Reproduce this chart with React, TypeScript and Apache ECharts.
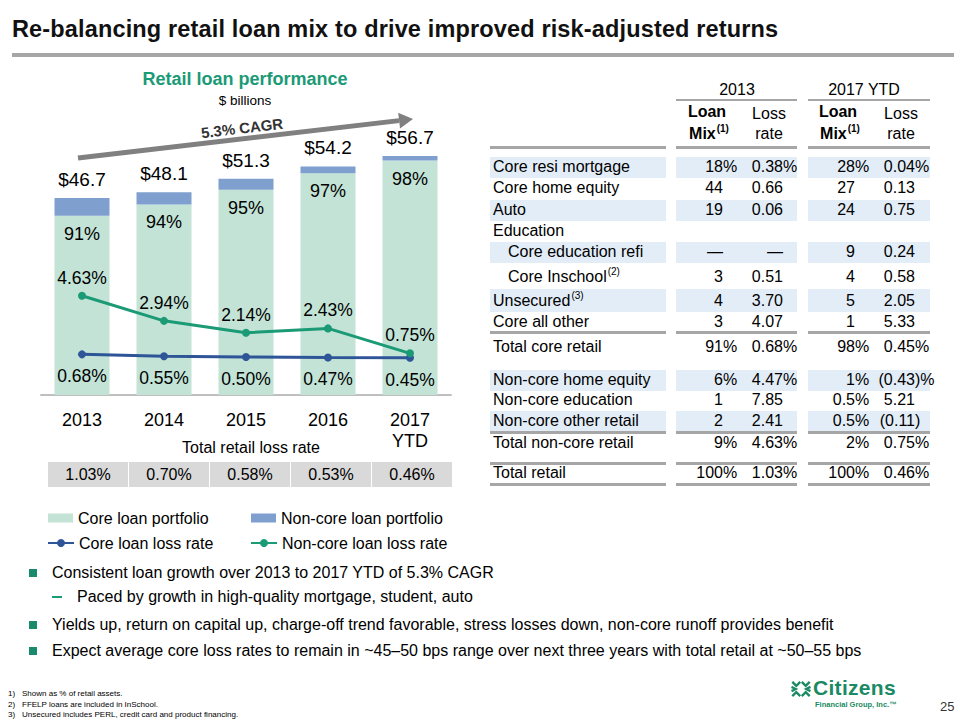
import React, { useEffect, useRef } from "react";
import * as echarts from "echarts";

// ---------- chart data ----------
const years = ["2013", "2014", "2015", "2016", "2017\nYTD"];
const totals = [46.7, 48.1, 51.3, 54.2, 56.7];
const coreLoans = [42.5, 45.2, 48.7, 52.6, 55.6];
const nonCoreLoans = [4.2, 2.9, 2.6, 1.6, 1.1];
const corePct = ["91%", "94%", "95%", "97%", "98%"];
const coreLossRate = [0.68, 0.55, 0.5, 0.47, 0.45];
const nonCoreLossRate = [4.63, 2.94, 2.14, 2.43, 0.75];
const totalLossRate = ["1.03%", "0.70%", "0.58%", "0.53%", "0.46%"];

// ---------- table data ----------
const rowLabels = [
  "Core resi mortgage",
  "Core home equity",
  "Auto",
  "Education",
  "Core education refi",
  "Core Inschool",
  "Unsecured",
  "Core all other",
  "Total core retail",
  "Non-core home equity",
  "Non-core education",
  "Non-core other retail",
  "Total non-core retail",
  "Total retail",
];
const rowNotes = ["", "", "", "", "", "(2)", "(3)", "", "", "", "", "", "", ""];
const mix2013 = ["18%", "44", "19", "", "—", "3", "4", "3", "91%", "6%", "1", "2", "9%", "100%"];
const loss2013 = ["0.38%", "0.66", "0.06", "", "—", "0.51", "3.70", "4.07", "0.68%", "4.47%", "7.85", "2.41", "4.63%", "1.03%"];
const mix2017 = ["28%", "27", "24", "", "9", "4", "5", "1", "98%", "1%", "0.5%", "0.5%", "2%", "100%"];
const loss2017 = ["0.04%", "0.13", "0.75", "", "0.24", "0.58", "2.05", "5.33", "0.45%", "(0.43)%", "5.21", "(0.11)", "0.75%", "0.46%"];

const bullets = [
  "Consistent loan growth over 2013 to 2017 YTD of 5.3% CAGR",
  "Paced by growth in high-quality mortgage, student, auto",
  "Yields up, return on capital up, charge-off trend favorable, stress losses down, non-core runoff provides benefit",
  "Expect average core loss rates to remain in ~45–50 bps range over next three years with total retail at ~50–55 bps",
];
const footnotes = [
  "Shown as % of retail assets.",
  "FFELP loans are included in InSchool.",
  "Unsecured includes PERL, credit card and product financing.",
];

// ---------- layout (not data) ----------
const FONT = "'Liberation Sans', Arial, sans-serif";
const GREEN = "#1b9a76";
const rowY = [167, 188, 210, 231, 252, 277, 301, 322, 347, 380, 400, 421, 443, 473];
const shaded = [1, 0, 1, 0, 1, 0, 1, 0, 0, 1, 0, 1, 0, 0];
const indent = [0, 0, 0, 0, 1, 1, 0, 0, 0, 0, 0, 0, 0, 0];
const colAnchors = [723, 783, 855, 915];
const blocks: [number, number][] = [
  [490, 666],
  [676, 797],
  [808, 930],
];
const ruleY = [147, 332, 432, 463, 484];
const bulletY = [573, 597, 625, 651];

function Txt(props: {
  x: number;
  y: number;
  children: React.ReactNode;
  size?: number;
  align?: "left" | "right" | "center";
  weight?: string;
  color?: string;
  lh?: number;
  ls?: number;
}) {
  const { x, y, children, size = 16, align = "left", weight = "normal", color = "#000" } = props;
  const lh = props.lh ?? Math.round(size * 1.25);
  const style: React.CSSProperties = {
    position: "absolute",
    top: y - lh / 2,
    height: lh,
    lineHeight: lh + "px",
    fontSize: size,
    fontWeight: weight as any,
    color,
    whiteSpace: "nowrap",
    fontFamily: FONT,
    letterSpacing: props.ls ?? 0,
  };
  if (align === "left") style.left = x;
  else if (align === "right") style.right = 960 - x;
  else {
    style.left = x - 300;
    style.width = 600;
    style.textAlign = "center";
  }
  return <div style={style}>{children}</div>;
}

function Sup({ t }: { t: string }) {
  return (
    <span style={{ fontSize: 10, position: "relative", top: -7, marginLeft: 1 }}>{t}</span>
  );
}

function Cell({ x, y, v }: { x: number; y: number; v: string }) {
  if (!v) return null;
  const m = v.match(/^(.*?)([)%]*)$/);
  const main = m ? m[1] : v;
  const suf = m ? m[2] : "";
  return (
    <>
      <Txt x={x} y={y} align="right">
        {main}
      </Txt>
      {suf ? (
        <Txt x={x} y={y}>
          {suf}
        </Txt>
      ) : null}
    </>
  );
}

function Chart() {
  const ref = useRef<HTMLDivElement>(null);
  useEffect(() => {
    if (!ref.current) return;
    const chart = echarts.init(ref.current, undefined, { renderer: "svg" });
    const u = [0.993, -0.1156];
    const n = [0.1156, 0.993];
    const tip = [413, 119];
    const base = [tip[0] - 14 * u[0], tip[1] - 14 * u[1]];
    const legendBase = {
      padding: 0,
      selectedMode: false,
      textStyle: { fontSize: 16, color: "#000", fontFamily: FONT },
    };
    chart.setOption({
      animation: false,
      textStyle: { fontFamily: FONT },
      grid: { left: 41, top: 142, width: 410, height: 253 },
      xAxis: {
        type: "category",
        data: years,
        axisLine: { lineStyle: { color: "#bfbfbf", width: 2 } },
        axisTick: { show: false },
        axisLabel: { fontSize: 18, color: "#000", margin: 14, lineHeight: 21, fontFamily: FONT },
      },
      yAxis: [
        { type: "value", min: 0, max: 60, show: false },
        { type: "value", min: -2.06, max: 15, show: false },
      ],
      legend: [
        { ...legendBase, data: ["Core loan portfolio"], left: 48, top: 510, itemWidth: 25, itemHeight: 9, icon: "rect" },
        { ...legendBase, data: ["Non-core loan portfolio"], left: 251, top: 510, itemWidth: 25, itemHeight: 9, icon: "rect" },
        { ...legendBase, data: ["Core loan loss rate"], left: 47, top: 535, itemWidth: 26, itemHeight: 10 },
        { ...legendBase, data: ["Non-core loan loss rate"], left: 250, top: 535, itemWidth: 26, itemHeight: 10 },
      ],
      series: [
        {
          name: "Core loan portfolio",
          type: "bar",
          stack: "loans",
          data: coreLoans,
          barWidth: 55,
          itemStyle: { color: "#c2e3d5" },
          label: {
            show: true,
            position: "insideTop",
            distance: 9,
            formatter: (p: any) => corePct[p.dataIndex],
            fontSize: 18,
            color: "#000",
            fontFamily: FONT,
          },
        },
        {
          name: "Non-core loan portfolio",
          type: "bar",
          stack: "loans",
          data: nonCoreLoans,
          barWidth: 55,
          itemStyle: { color: "#7f9fcf" },
          label: {
            show: true,
            position: "top",
            distance: 9,
            formatter: (p: any) => "$" + totals[p.dataIndex].toFixed(1),
            fontSize: 19,
            color: "#000",
            fontFamily: FONT,
          },
        },
        {
          name: "Core loan loss rate",
          type: "line",
          yAxisIndex: 1,
          data: coreLossRate,
          symbol: "circle",
          symbolSize: 8,
          lineStyle: { color: "#2e5597", width: 3 },
          itemStyle: { color: "#2e5597" },
          label: {
            show: true,
            position: "bottom",
            distance: 9,
            formatter: (p: any) => p.value.toFixed(2) + "%",
            fontSize: 17.5,
            color: "#000",
            fontFamily: FONT,
          },
        },
        {
          name: "Non-core loan loss rate",
          type: "line",
          yAxisIndex: 1,
          data: nonCoreLossRate,
          symbol: "circle",
          symbolSize: 8,
          lineStyle: { color: GREEN, width: 3 },
          itemStyle: { color: GREEN },
          label: {
            show: true,
            position: "top",
            distance: 5,
            formatter: (p: any) => p.value.toFixed(2) + "%",
            fontSize: 17.5,
            color: "#000",
            fontFamily: FONT,
          },
        },
      ],
      graphic: [
        {
          type: "line",
          shape: { x1: 78, y1: 158, x2: base[0], y2: base[1] },
          style: { stroke: "#808080", lineWidth: 5 },
        },
        {
          type: "polygon",
          shape: {
            points: [
              tip,
              [base[0] + 8 * n[0], base[1] + 8 * n[1]],
              [base[0] - 8 * n[0], base[1] - 8 * n[1]],
            ],
          },
          style: { fill: "#808080" },
        },
        {
          type: "text",
          x: 242,
          y: 128,
          rotation: 0.115,
          style: {
            text: "5.3% CAGR",
            fontSize: 15,
            fontWeight: "bold",
            fontFamily: FONT,
            fill: "#333",
            align: "center",
            verticalAlign: "middle",
          },
        },
        {
          type: "text",
          x: 245,
          y: 79,
          style: {
            text: "Retail loan performance",
            fontSize: 18,
            fontWeight: "bold",
            fontFamily: FONT,
            fill: GREEN,
            align: "center",
            verticalAlign: "middle",
          },
        },
        {
          type: "text",
          x: 245,
          y: 100,
          style: {
            text: "$ billions",
            fontSize: 13.5,
            fontFamily: FONT,
            fill: "#000",
            align: "center",
            verticalAlign: "middle",
          },
        },
      ],
    });
    return () => chart.dispose();
  }, []);
  return <div ref={ref} style={{ position: "absolute", left: 0, top: 0, width: 960, height: 720 }} />;
}

export default function App() {
  return (
    <div
      style={{
        position: "absolute",
        left: 0,
        top: 0,
        width: 960,
        height: 720,
        background: "#fff",
        overflow: "hidden",
        fontFamily: FONT,
      }}
    >
      <Chart />
      <div style={{ position: "absolute", left: 0, top: 0, width: 960, height: 720, pointerEvents: "none" }}>
        {/* Title */}
        <Txt x={12} y={29} size={23.5} weight="bold" color="#111" lh={28} ls={0.15}>
          Re-balancing retail loan mix to drive improved risk-adjusted returns
        </Txt>
        <div style={{ position: "absolute", left: 12, top: 53, width: 942, height: 4, background: "#a6a6a6" }} />

        {/* Total retail loss rate */}
        <Txt x={251} y={448} align="center">
          Total retail loss rate
        </Txt>
        {totalLossRate.map((v, i) => (
          <div
            key={i}
            style={{
              position: "absolute",
              left: 48 + i * 81,
              top: 462,
              width: 80,
              height: 25,
              background: "#d9d9d9",
            }}
          />
        ))}
        {totalLossRate.map((v, i) => (
          <Txt key={"t" + i} x={88 + i * 81} y={475} align="center">
            {v}
          </Txt>
        ))}

        {/* Table header */}
        <Txt x={737} y={90} align="center">
          2013
        </Txt>
        <Txt x={864} y={90} align="center">
          2017 YTD
        </Txt>
        {[1, 2].map((b) => (
          <div
            key={"h" + b}
            style={{
              position: "absolute",
              left: blocks[b][0],
              top: 99,
              width: blocks[b][1] - blocks[b][0],
              height: 2,
              background: "#a6a6a6",
            }}
          />
        ))}
        {[707, 838].map((x) => (
          <React.Fragment key={"lm" + x}>
            <Txt x={x} y={112} align="center" weight="bold">
              Loan
            </Txt>
            <Txt x={x + 2} y={134} align="center" weight="bold">
              Mix<Sup t="(1)" />
            </Txt>
          </React.Fragment>
        ))}
        {[769, 901].map((x) => (
          <React.Fragment key={"lr" + x}>
            <Txt x={x} y={114} align="center">
              Loss
            </Txt>
            <Txt x={x} y={134} align="center">
              rate
            </Txt>
          </React.Fragment>
        ))}

        {/* Shading */}
        {rowY.map((y, i) =>
          shaded[i]
            ? blocks.map((b, j) => (
                <div
                  key={"s" + i + "-" + j}
                  style={{
                    position: "absolute",
                    left: b[0],
                    top: i === 6 ? y - 12.5 : y - 10.5,
                    width: b[1] - b[0],
                    height: i === 6 ? 23 : 21,
                    background: "#e3edf8",
                  }}
                />
              ))
            : null
        )}
        {/* Rules */}
        {ruleY.map((y) =>
          blocks.map((b, j) => (
            <div
              key={"r" + y + "-" + j}
              style={{
                position: "absolute",
                left: b[0],
                top: y - 1,
                width: b[1] - b[0],
                height: 2.5,
                background: "#a6a6a6",
              }}
            />
          ))
        )}
        {/* Rows */}
        {rowLabels.map((lab, i) => (
          <React.Fragment key={"row" + i}>
            <Txt x={indent[i] ? 508 : 493} y={rowY[i]}>
              {lab}
              {rowNotes[i] ? <Sup t={rowNotes[i]} /> : null}
            </Txt>
            <Cell x={colAnchors[0]} y={rowY[i]} v={mix2013[i]} />
            <Cell x={colAnchors[1]} y={rowY[i]} v={loss2013[i]} />
            <Cell x={colAnchors[2]} y={rowY[i]} v={mix2017[i]} />
            <Cell x={colAnchors[3]} y={rowY[i]} v={loss2017[i]} />
          </React.Fragment>
        ))}

        {/* Bullets */}
        {bullets.map((b, i) =>
          i === 1 ? (
            <React.Fragment key={"b" + i}>
              <div
                style={{
                  position: "absolute",
                  left: 52,
                  top: bulletY[i] - 0.75,
                  width: 10,
                  height: 1.5,
                  background: GREEN,
                }}
              />
              <Txt x={77} y={bulletY[i]}>
                {b}
              </Txt>
            </React.Fragment>
          ) : (
            <React.Fragment key={"b" + i}>
              <div
                style={{
                  position: "absolute",
                  left: 29,
                  top: bulletY[i] - 4,
                  width: 8,
                  height: 8,
                  background: "#1a8a6c",
                }}
              />
              <Txt x={52} y={bulletY[i]}>
                {b}
              </Txt>
            </React.Fragment>
          )
        )}

        {/* Footnotes */}
        {footnotes.map((f, i) => (
          <React.Fragment key={"f" + i}>
            <Txt x={8} y={694 + i * 10.5} size={8} lh={10}>
              {i + 1 + ")"}
            </Txt>
            <Txt x={22} y={694 + i * 10.5} size={8} lh={10}>
              {f}
            </Txt>
          </React.Fragment>
        ))}

        {/* Logo */}
        <svg style={{ position: "absolute", left: 791, top: 681 }} width={20} height={16} viewBox="0 0 19 15">
          <g stroke="#1a8a64" strokeWidth={2.2} fill="none" strokeLinecap="square">
            <polyline points="2,1.5 5,4.5 8,1.5" />
            <polyline points="11,1.5 14,4.5 17,1.5" />
            <polyline points="2,13.5 5,10.5 8,13.5" />
            <polyline points="11,13.5 14,10.5 17,13.5" />
            <polyline points="1.5,6 4.5,7.5 1.5,9" />
            <polyline points="17.5,6 14.5,7.5 17.5,9" />
          </g>
        </svg>
        <Txt x={813} y={688} size={21} weight="bold" color="#1a8a64" ls={0.3}>
          Citizens
        </Txt>
        <Txt x={815} y={704} size={7.5} weight="bold" color="#1a8a64" lh={9}>
          Financial Group, Inc.™
        </Txt>
        <Txt x={940} y={707} size={13} color="#333">
          25
        </Txt>
      </div>
    </div>
  );
}
